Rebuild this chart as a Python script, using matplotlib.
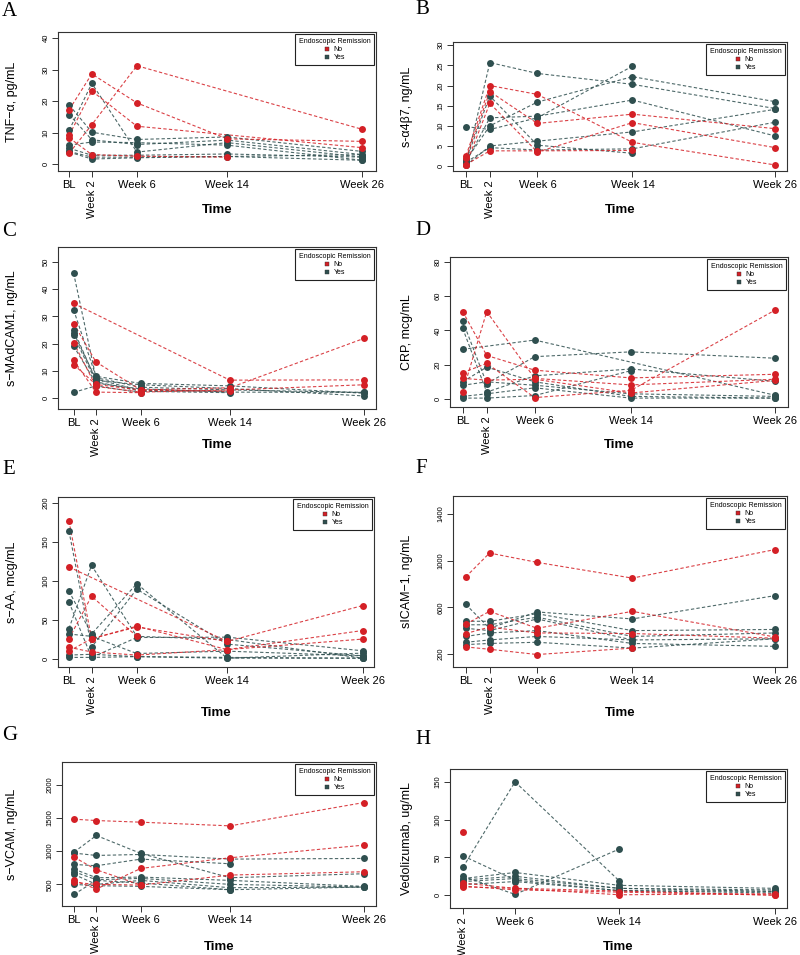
import matplotlib
matplotlib.use("Agg")
from matplotlib import pyplot as plt
from matplotlib.lines import Line2D

plt.rcParams['font.family'] = ['Liberation Sans', 'DejaVu Sans']

# time points (weeks) and their tick labels
times = [0, 2, 6, 14, 26]
time_labels = ["BL", "Week 2", "Week 6", "Week 14", "Week 26"]
h_times = [2, 6, 14, 26]
h_time_labels = ["Week 2", "Week 6", "Week 14", "Week 26"]

# per subject: endoscopic remission and values at each time point (None = missing)
tnf_group = ["No", "No", "No", "No", "Yes", "Yes", "Yes", "Yes", "Yes", "Yes", "Yes"]
tnf_values = [
    [17.3, 28.6, 19.4, 8.0, 7.2],
    [9.2, 23.2, 12.0, None, 5.2],
    [3.5, 12.5, 31.2, None, 11.0],
    [8.3, 3.0, 2.5, 2.2, None],
    [18.7, 10.1, 7.8, 8.6, 4.0],
    [15.7, 7.7, 6.2, 7.6, 3.0],
    [10.8, 25.6, 3.8, 6.8, 2.2],
    [6.0, 7.0, 6.8, 6.0, 1.2],
    [5.0, 2.8, 2.8, 3.2, 2.2],
    [4.0, 2.2, 2.2, 2.4, 1.2],
    [3.8, 1.6, 2.0, None, 3.0],
]

a4b7_group = ["Yes", "No", "No", "Yes", "No", "Yes", "Yes", "Yes", "Yes", "No", "Yes"]
a4b7_values = [
    [0.5, 25.7, 23.0, 20.3, 14.3],
    [2.6, 20.0, 17.8, 5.9, 0.3],
    [2.0, 18.5, 10.6, 12.9, 9.3],
    [1.5, 17.4, 5.2, 3.2, None],
    [0.4, 15.6, 3.5, 10.8, 4.6],
    [1.0, 12.0, 12.4, 16.4, 7.5],
    [9.8, 9.1, 12.0, 24.8, None],
    [1.5, 10.0, 15.9, 22.2, 16.0],
    [0.2, 5.0, 6.2, 8.5, 14.1],
    [0.4, 3.8, 3.8, 3.9, None],
    [1.0, 4.6, 4.0, 4.3, 10.9],
]

madcam_group = ["Yes", "No", "Yes", "No", "Yes", "Yes", "Yes", "No", "Yes", "No", "No", "Yes"]
madcam_values = [
    [45.9, 7.5, 4.0, 3.0, 2.1],
    [34.8, None, None, 6.6, 6.7],
    [32.4, 8.0, 5.4, 4.5, 1.8],
    [27.4, 13.3, 3.0, 3.8, 21.9],
    [25.0, 6.5, 4.9, 3.5, 0.8],
    [24.0, 7.0, 2.8, 2.5, None],
    [23.0, 6.0, 2.5, 2.0, None],
    [20.4, 4.3, 2.2, 3.0, 4.9],
    [19.1, 5.5, 3.4, 2.2, 2.1],
    [13.9, 2.2, 2.0, None, None],
    [12.3, 5.0, 3.0, 2.5, None],
    [2.1, 4.5, 2.0, None, None],
]

crp_group = ["No", "Yes", "Yes", "Yes", "No", "No", "No", "Yes", "Yes", "Yes", "Yes"]
crp_values = [
    [51.0, 25.4, 16.8, 12.3, 14.4],
    [29.0, None, 34.4, None, 2.2],
    [45.5, 9.0, 24.7, 27.5, 23.8],
    [41.2, 4.0, 13.5, 17.5, 10.3],
    [4.2, 51.0, 12.0, 8.2, 11.5],
    [15.3, 20.8, 0.8, 5.0, 51.8],
    [12.0, 11.0, 11.5, 3.5, 10.8],
    [10.0, 18.6, 10.0, 1.5, 0.5],
    [8.0, 10.0, 8.0, 3.0, 1.5],
    [1.5, 3.0, 6.5, 0.5, 0.5],
    [0.5, 0.5, 2.0, 16.5, None],
]

saa_group = ["No", "Yes", "No", "Yes", "Yes", "Yes", "Yes", "No", "No", "Yes", "Yes", "No"]
saa_values = [
    [177, 26, 42, 12, 36.5],
    [164, 15, 89.5, 19, 4],
    [26, 80.5, 29, None, None],
    [87, 32, 96.5, 1, 7.5],
    [73, 2, 27.5, 28, 10.5],
    [39, 120, 29, 25, 1],
    [32, 29, 7, 10, 4],
    [15, 9, 5, 12, 25.5],
    [10, 26, 41, 22.5, None],
    [5, 6, 3, 2, 1],
    [2, 2, 3, 1, 1],
    [118, None, None, 22.5, 68.5],
]

icam_group = ["No", "Yes", "No", "No", "No", "Yes", "Yes", "Yes", "Yes", "Yes", "Yes"]
icam_values = [
    [860, 1065, 985, 850, 1095],
    [625, 420, 560, 500, 700],
    [455, 565, 420, 565, 345],
    [375, 430, 380, 375, 335],
    [260, 240, 195, 250, None],
    [480, 480, 545, 400, 410],
    [450, 450, 515, 350, 380],
    [420, 400, 500, 320, 330],
    [350, 380, 400, 290, 265],
    [300, 320, 350, 320, None],
    [280, 290, 300, 250, 330],
]

vcam_group = ["No", "Yes", "Yes", "No", "No", "Yes", "Yes", "Yes", "Yes", "No", "Yes", "Yes"]
vcam_values = [
    [1480, 1460, 1435, 1380, 1730],
    [985, 1235, 965, 600, 660],
    [970, 935, 950, 880, 890],
    [910, 720, 490, 640, 690],
    [560, 430, 740, 900, 1090],
    [800, 780, 880, 810, None],
    [730, 600, 610, 560, 470],
    [690, 570, 590, 500, 460],
    [650, 500, 560, 450, 460],
    [530, 500, 490, None, None],
    [500, 480, 470, 420, 460],
    [350, 560, 520, 420, None],
]

vedo_group = ["Yes", "No", "Yes", "Yes", "Yes", "Yes", "Yes", "No", "No", "No", "Yes"]
vedo_values = [
    [37, 150, 19, None],
    [83, None, None, None],
    [52, 20, 6, 5],
    [25, 1, 61, None],
    [22, 30, 13, 9],
    [20, 25, 9, 7],
    [18, 22, 9, 5],
    [16, 9, 0.5, 2],
    [12, 7, 4, 0],
    [11, None, None, 0],
    [14, 18, 6, 3],
]

RED = "#d42026"
TEAL = "#2f4f4f"
colors = {"No": RED, "Yes": TEAL}

W, H = 800, 955
fig = plt.figure(figsize=(W / 100, H / 100), dpi=100)


def px_rect(left, top, right, bottom):
    return [left / W, 1 - bottom / H, (right - left) / W, (bottom - top) / H]


def panel(letter, letter_xy, box, t, tlabels, groups, values, xlim, ylim, yticks,
          ylabel, ylabel_x, time_y):
    ax = fig.add_axes(px_rect(*box))
    # teal first, red on top
    for want in ["Yes", "No"]:
        for g, vals in zip(groups, values):
            if g != want:
                continue
            xs = [x for x, v in zip(t, vals) if v is not None]
            ys = [v for v in vals if v is not None]
            ax.plot(xs, ys, color=colors[g], lw=0.8, dashes=(3, 2), alpha=0.85, zorder=2)
            ax.plot(xs, ys, 'o', color=colors[g], ms=5, mew=0, zorder=3)
    ax.set_xlim(*xlim)
    ax.set_ylim(*ylim)
    ax.set_xticks(t)
    ax.set_xticklabels(tlabels, fontsize=8)
    for lab in ax.get_xticklabels():
        if lab.get_text() == "Week 2":
            lab.set_rotation(90)
    ax.set_yticks(yticks)
    ax.set_yticklabels([str(v) for v in yticks], fontsize=5.5, rotation=90, va='center')
    for s in ax.spines.values():
        s.set_color("#333333")
        s.set_linewidth(0.8)
    ax.tick_params(axis='both', length=4, width=0.7, color="#333333", pad=2)
    ax.tick_params(axis='x', pad=2.5)

    handles = [Line2D([], [], marker='s', ls='none', color=RED, ms=3.5, mec='#333333', mew=0.3),
               Line2D([], [], marker='s', ls='none', color=TEAL, ms=3.5, mec='#333333', mew=0.3)]
    leg = ax.legend(handles, ["No", "Yes"], title="Endoscopic Remission", loc='upper right',
                    fontsize=5, title_fontsize=5, fancybox=False, framealpha=1,
                    edgecolor='#222222', borderpad=0.5, handlelength=0.8,
                    handletextpad=0.6, labelspacing=0.2, borderaxespad=0.3)
    leg.get_frame().set_linewidth(0.8)

    cx = (box[0] + box[2]) / 2
    cy = (box[1] + box[3]) / 2
    fig.text(cx / W, 1 - time_y / H, "Time", fontsize=9.5, fontweight='bold',
             ha='center', va='center')
    fig.text(ylabel_x / W, 1 - cy / H, ylabel, fontsize=9, rotation=90,
             ha='center', va='center')
    fig.text(letter_xy[0] / W, 1 - letter_xy[1] / H, letter, fontsize=15,
             family=['Liberation Serif', 'DejaVu Serif'], ha='left', va='center')
    return ax


panel("A", (2, 11), (58, 32, 376, 171), times, time_labels, tnf_group, tnf_values,
      (-1.0, 27.2), (-2.2, 41.9), [0, 10, 20, 30, 40], "TNF\u2212\u03b1, pg/mL", 12, 210)
panel("B", (415, 10), (453, 42, 787, 171), times, time_labels, a4b7_group, a4b7_values,
      (-1.1, 27.0), (-1.2, 30.8), [0, 5, 10, 15, 20, 25, 30], "s-\u03b14\u03b27, ng/mL", 407, 210)
panel("C", (2, 231), (58, 247, 376, 409), times, time_labels, madcam_group, madcam_values,
      (-1.4, 27.1), (-4.0, 55.5), [0, 10, 20, 30, 40, 50], "s\u2212MAdCAM1, ng/mL", 12, 445)
panel("D", (415, 230), (450, 257, 788, 407), times, time_labels, crp_group, crp_values,
      (-1.06, 27.1), (-4.7, 82.9), [0, 20, 40, 60, 80], "CRP, mcg/mL", 407, 445)
panel("E", (2, 470), (58, 497, 374, 667), times, time_labels, saa_group, saa_values,
      (-0.97, 27.0), (-10.3, 207.7), [0, 50, 100, 150, 200], "s\u2212AA, mcg/mL", 12, 713)
panel("F", (415, 468), (453, 496, 787, 667), times, time_labels, icam_group, icam_values,
      (-1.07, 27.0), (88, 1554), [200, 600, 1000, 1400], "sICAM\u22121, ng/mL", 407, 713)
panel("G", (2, 736), (62, 762, 376, 906), times, time_labels, vcam_group, vcam_values,
      (-1.08, 27.1), (175, 2340), [500, 1000, 1500, 2000], "s\u2212VCAM, ng/mL", 12, 947)
panel("H", (415, 739), (450, 769, 787, 908), h_times, h_time_labels, vedo_group, vedo_values,
      (1.0, 26.9), (-17, 167), [0, 50, 100, 150], "Vedolizumab, ug/mL", 407, 947)

fig.savefig("out.png", dpi=100)
